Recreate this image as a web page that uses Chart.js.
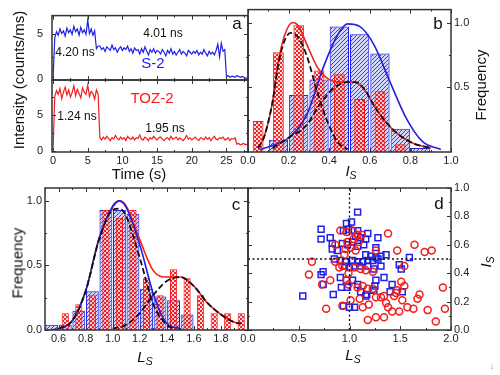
<!DOCTYPE html>
<html>
<head>
<meta charset="utf-8">
<script src="https://cdn.jsdelivr.net/npm/chart.js@4.4.1/dist/chart.umd.min.js"></script>
<style>
body { margin: 0; background: #fff; }
#fig { position: relative; width: 500px; height: 375px; overflow: hidden; font-family: "Liberation Sans", Arial, sans-serif; }
#fig canvas { position: absolute; left: 0; top: 0; }
.t { position: absolute; transform: translate(-50%, -50%); white-space: nowrap; color: #111; line-height: 1; }
.r { transform: translate(-50%, -50%) rotate(-90deg); }
sub { font-size: 70%; vertical-align: -0.25em; font-style: italic; }
</style>
</head>
<body>
<div id="fig">
  <canvas id="a1" width="500" height="375"></canvas>
  <canvas id="a2" width="500" height="375"></canvas>
  <canvas id="b" width="500" height="375"></canvas>
  <canvas id="c" width="500" height="375"></canvas>
  <canvas id="d" width="500" height="375"></canvas>

  <div class="t" style="left:237px;top:23px;font-size:17px">a</div>
  <div class="t" style="left:438px;top:23px;font-size:17px">b</div>
  <div class="t" style="left:236px;top:204px;font-size:17px">c</div>
  <div class="t" style="left:439px;top:203px;font-size:17px">d</div>

  <div class="t" style="left:75px;top:52px;font-size:12px">4.20 ns</div>
  <div class="t" style="left:163px;top:33px;font-size:12px">4.01 ns</div>
  <div class="t" style="left:153px;top:62px;font-size:15px;color:#1a1aff">S-2</div>
  <div class="t" style="left:152px;top:97px;font-size:15px;color:#ff1a1a">TOZ-2</div>
  <div class="t" style="left:77px;top:116px;font-size:12px">1.24 ns</div>
  <div class="t" style="left:165px;top:128px;font-size:12px">1.95 ns</div>

  <div class="t r" style="left:18px;top:80px;font-size:15px">Intensity (counts/ms)</div>
  <div class="t" style="left:139px;top:173px;font-size:15px">Time (s)</div>
  <div class="t r" style="left:480px;top:85px;font-size:15px">Frequency</div>
  <div class="t" style="left:351px;top:172px;font-size:15px"><i>I</i><sub>S</sub></div>
  <div class="t r" style="left:17px;top:263px;font-size:15px">Frequency</div>
  <div class="t" style="left:145px;top:358px;font-size:15px"><i>L</i><sub>S</sub></div>
  <div class="t" style="left:353px;top:356px;font-size:15px"><i>L</i><sub>S</sub></div>
  <div class="t r" style="left:487px;top:262px;font-size:15px"><i>I</i><sub>S</sub></div>
  <div class="t" style="left:492px;top:366px;font-size:9px;color:#999">&#8595;</div>
</div>

<script>
// ---- panel a: intensity traces, 0.25 s bins
const aStep = 0.25;
const s2Intensity = [0,
  4.6,5.3,4.9,5.6,5.1,5.4,4.8,5.7,5.2,5.5,5.0,5.9,5.3,5.6,4.9,5.8,5.2,5.5,5.0,6.6,5.1,5.6,4.9,5.4,
  3.4,3.7,3.7,3.3,3.5,3.1,3.6,3.4,3.2,3.8,3.3,3.5,3.0,3.4,3.6,3.2,3.5,
  3.3,3.7,3.1,3.4,2.9,3.5,3.2,3.3,2.8,3.4,3.0,3.6,3.1,2.7,3.3,3.0,3.4,2.9,3.2,3.1,
  2.8,3.3,3.0,2.6,3.2,2.9,3.4,2.8,3.1,2.7,3.0,3.3,2.8,3.1,2.9,2.6,3.2,3.0,2.8,3.1,
  2.9,3.2,2.7,3.0,2.8,3.3,2.9,2.6,3.1,2.8,3.0,2.7,3.2,3.9,2.5,4.0,3.1,3.3,
  0.3,0.4,0.2,0.3,0.3,0.2,0.4,0.3,0.2,0.3,0.2,0.1,0.1];
const toz2Intensity = [0,
  7.6,8.4,7.9,8.7,7.3,8.2,8.9,7.8,8.5,7.5,8.1,9.1,7.7,8.6,8.0,7.4,8.8,8.2,7.9,9.2,7.6,8.3,8.0,7.2,8.5,7.9,
  1.8,1.5,1.9,1.6,2.0,1.7,1.4,1.8,1.6,2.1,1.7,1.5,1.9,1.6,1.8,1.4,2.0,1.7,1.6,1.9,
  1.5,1.8,1.7,2.2,1.6,1.5,1.9,1.7,1.4,1.8,1.6,2.0,1.7,1.5,1.8,1.9,1.6,1.4,1.7,1.8,
  1.5,2.0,1.6,1.7,1.9,1.5,1.8,1.6,1.4,1.7,2.1,1.6,1.8,1.5,1.7,1.9,1.6,1.4,1.8,1.7,
  1.5,1.9,1.6,1.8,1.4,1.7,2.0,1.6,1.5,1.8,1.7,1.9,1.5,1.6,1.8,1.4,1.7,1.6,1.8,
  0.9,1.0,0.8,0.9,1.0,0.8,0.9];
const aTimeTicks = [0, 5, 10, 15, 20, 25];
const aIntTicks = [0, 5];

// ---- panel b: I_S histograms + fits
const bRedBins = [0.05,0.15,0.25,0.35,0.45,0.55,0.65,0.75];
const bRedFreq = [0.24,0.77,0.98,0.63,0.60,0.41,0.47,0.06];
const bBlueBins = [0.15,0.25,0.35,0.45,0.55,0.65,0.75,0.85];
const bBlueFreq = [0.095,0.44,0.56,0.97,0.91,0.76,0.18,0.03];
const bRedFitX = [0.05,0.08,0.12,0.15,0.18,0.22,0.25,0.29,0.34,0.39,0.45,0.52,0.57,0.62,0.67,0.73,0.81,0.90];
const bRedFit  = [0.03,0.12,0.38,0.70,0.90,1.00,0.97,0.83,0.66,0.57,0.54,0.54,0.49,0.36,0.25,0.15,0.07,0.03];
const bBlueFitX = [0.06,0.12,0.20,0.29,0.37,0.44,0.49,0.55,0.62,0.70,0.78,0.86,0.95];
const bBlueFit  = [0.02,0.05,0.11,0.29,0.65,0.90,0.99,0.97,0.83,0.54,0.26,0.08,0.02];
const bPeak1X = [0.05,0.08,0.12,0.15,0.18,0.21,0.25,0.29,0.34,0.39,0.44,0.49];
const bPeak1  = [0.03,0.12,0.38,0.68,0.86,0.92,0.88,0.74,0.47,0.24,0.08,0.02];
const bPeak2X = [0.12,0.20,0.29,0.35,0.42,0.49,0.53,0.58,0.62,0.67,0.73,0.81,0.90];
const bPeak2  = [0.03,0.11,0.21,0.36,0.49,0.54,0.54,0.47,0.36,0.25,0.15,0.07,0.03];
const bXTicks = [0, 0.2, 0.4, 0.6, 0.8, 1.0];
const bYTicks = [0.5, 1.0];

// ---- panel c: L_S histograms + fits
const cRedBins = [0.65,0.75,0.85,0.95,1.05,1.15,1.25,1.35,1.45,1.55,1.65,1.75,1.85,1.95];
const cRedFreq = [0.13,0.20,0.27,0.93,0.87,0.93,0.40,0.27,0.47,0.40,0.27,0.13,0.13,0.13];
const cBlueBins = [0.55,0.65,0.75,0.85,0.95,1.05,1.15,1.25,1.35,1.45,1.55];
const cBlueFreq = [0.04,0.04,0.15,0.30,0.93,0.93,0.90,0.32,0.26,0.23,0.12];
const cRedFitX = [0.55,0.60,0.70,0.80,0.90,1.00,1.05,1.10,1.20,1.30,1.40,1.50,1.60,1.70,1.80,1.90,1.95];
const cRedFit  = [0.00,0.01,0.07,0.30,0.71,0.95,1.00,0.96,0.70,0.46,0.41,0.41,0.34,0.21,0.12,0.06,0.05];
const cBlueFitX = [0.55,0.60,0.70,0.80,0.90,1.00,1.05,1.10,1.20,1.30,1.35,1.40,1.50];
const cBlueFit  = [0.00,0.01,0.07,0.30,0.71,0.96,1.00,0.95,0.66,0.28,0.14,0.05,0.01];
const cPeak1X = [0.60,0.70,0.80,0.90,1.00,1.05,1.10,1.20,1.30,1.40,1.45];
const cPeak1  = [0.01,0.07,0.30,0.70,0.93,0.94,0.88,0.56,0.20,0.04,0.01];
const cPeak2X = [1.00,1.10,1.20,1.30,1.40,1.50,1.60,1.70,1.80,1.90,1.95];
const cPeak2  = [0.01,0.04,0.13,0.27,0.38,0.41,0.34,0.21,0.12,0.06,0.05];
const cXTicks = [0.6, 0.8, 1.0, 1.2, 1.4, 1.6, 1.8];
const cYTicks = [0, 0.5, 1.0];

// ---- panel d: scatter L_S vs I_S
const dBlue = [[1.08,0.83],[0.72,0.71],[0.97,0.75],[1.02,0.76],[0.72,0.64],[0.81,0.65],[0.94,0.70],[0.99,0.71],
  [1.03,0.70],[1.08,0.70],[1.18,0.68],[1.06,0.66],[1.11,0.65],[1.16,0.64],[1.28,0.65],[0.93,0.61],[0.98,0.60],
  [1.03,0.62],[1.08,0.59],[1.14,0.60],[1.26,0.58],[0.83,0.61],[0.88,0.56],[0.83,0.57],[1.16,0.53],[1.21,0.52],
  [1.26,0.51],[1.31,0.52],[1.36,0.53],[0.85,0.50],[0.91,0.49],[0.96,0.48],[1.03,0.49],[1.08,0.48],[1.13,0.48],
  [1.18,0.49],[1.23,0.49],[1.28,0.50],[0.95,0.45],[1.00,0.44],[1.05,0.45],[1.10,0.45],[1.18,0.45],[1.24,0.43],
  [1.31,0.45],[1.49,0.46],[1.51,0.43],[1.59,0.51],[0.74,0.41],[0.72,0.39],[0.91,0.37],[0.97,0.35],[1.03,0.35],
  [1.08,0.32],[1.26,0.35],[1.25,0.31],[1.34,0.37],[1.42,0.32],[1.52,0.27],[1.40,0.27],[0.92,0.30],[0.98,0.30],
  [1.11,0.27],[1.17,0.25],[1.24,0.28],[0.74,0.32],[0.84,0.25],[0.54,0.24],[0.94,0.17],[1.00,0.16],[1.05,0.16],[1.16,0.24]];
const dRed = [[0.91,0.70],[0.97,0.69],[1.03,0.70],[1.08,0.67],[1.12,0.67],[1.09,0.62],[1.38,0.68],[0.86,0.60],
  [0.98,0.62],[0.96,0.57],[1.01,0.58],[1.06,0.56],[1.26,0.56],[1.47,0.56],[1.64,0.60],[1.74,0.55],[1.81,0.56],
  [0.63,0.48],[0.86,0.48],[0.90,0.44],[0.93,0.45],[1.05,0.44],[1.11,0.43],[1.16,0.42],[1.23,0.41],[1.54,0.45],
  [0.60,0.39],[0.81,0.35],[0.73,0.32],[0.97,0.35],[0.99,0.32],[1.08,0.30],[1.13,0.31],[1.18,0.29],[1.23,0.29],
  [1.51,0.34],[1.54,0.31],[1.47,0.28],[1.69,0.25],[1.67,0.22],[1.92,0.30],[1.44,0.24],[1.46,0.26],[1.26,0.23],
  [1.31,0.23],[1.34,0.24],[1.01,0.21],[1.10,0.22],[1.52,0.21],[0.77,0.15],[0.93,0.17],[1.13,0.16],[1.19,0.18],
  [1.36,0.19],[1.38,0.16],[1.57,0.16],[1.63,0.15],[1.77,0.14],[1.94,0.15],[1.42,0.13],[1.49,0.13],[1.18,0.07],
  [1.26,0.09],[1.34,0.09],[1.85,0.06],[0.99,0.40],[1.04,0.64],[0.95,0.53]];
const dRefLs = [1.0];
const dRefIs = [0.5];
const dXTicks = [0, 0.5, 1.0, 1.5, 2.0];
const dYTicks = [0, 0.2, 0.4, 0.6, 0.8, 1.0];

const FONT = '"Liberation Sans", Arial, sans-serif';
const RED = '#f21e1e';
const BLUE = '#2020e6';

// fill patterns for the histogram bars
function makePatterns() {
  const probe = document.createElement('canvas').getContext('2d');
  const r = document.createElement('canvas');
  r.width = r.height = 4;
  let g = r.getContext('2d');
  g.fillStyle = 'rgba(242,24,24,0.95)';
  g.fillRect(0, 0, 4, 4);
  g.clearRect(0, 0, 2, 2); g.clearRect(2, 2, 2, 2);
  g.fillStyle = 'rgba(255,190,190,0.55)';
  g.fillRect(0, 0, 2, 2); g.fillRect(2, 2, 2, 2);

  const b = document.createElement('canvas');
  b.width = b.height = 4;
  g = b.getContext('2d');
  g.fillStyle = 'rgba(165,172,245,0.5)';
  g.fillRect(0, 0, 4, 4);
  g.strokeStyle = 'rgba(35,35,230,0.85)';
  g.lineWidth = 1;
  g.beginPath();
  g.moveTo(0, 4); g.lineTo(4, 0);
  g.moveTo(-1, 1); g.lineTo(1, -1);
  g.moveTo(3, 5); g.lineTo(5, 3);
  g.stroke();
  return { red: probe.createPattern(r, 'repeat'), blue: probe.createPattern(b, 'repeat') };
}
const pat = makePatterns();

// frame + inward ticks (major + minor) on all four sides
const frameTicks = {
  id: 'frameTicks',
  afterDatasetsDraw(chart) {
    const { ctx, chartArea: a } = chart;
    ctx.save();
    ctx.strokeStyle = '#333';
    ctx.lineWidth = 1;
    for (const s of Object.values(chart.scales)) {
      const vals = s.ticks.map(t => t.value);
      const marks = vals.map(v => [v, 4]);
      if (vals.length > 1) {
        const st = vals[1] - vals[0];
        for (let v = vals[0] - st / 2; v <= s.max + 1e-9; v += st) {
          if (v >= s.min - 1e-9) marks.push([v, 2]);
        }
      }
      ctx.beginPath();
      for (const [v, len] of marks) {
        const p = Math.round(s.getPixelForValue(v)) + 0.5;
        if (s.isHorizontal()) {
          ctx.moveTo(p, a.bottom); ctx.lineTo(p, a.bottom - len);
          ctx.moveTo(p, a.top); ctx.lineTo(p, a.top + len);
        } else {
          ctx.moveTo(a.left, p); ctx.lineTo(a.left + len, p);
          ctx.moveTo(a.right, p); ctx.lineTo(a.right - len, p);
        }
      }
      ctx.stroke();
    }
    ctx.lineWidth = 1.5;
    ctx.strokeRect(a.left, a.top, a.right - a.left, a.bottom - a.top);
    ctx.restore();
  }
};

function axis(position, min, max, list, size, fmt, pad) {
  return {
    type: 'linear', position, min, max, offset: false,
    grid: { display: false, drawTicks: false },
    border: { display: false },
    afterBuildTicks: s => { s.ticks = list.map(v => ({ value: v })); },
    afterFit: s => { if (s.isHorizontal()) s.height = size; else s.width = size; },
    ticks: {
      display: fmt !== null, callback: fmt || undefined,
      font: { family: FONT, size: 11 }, color: '#222',
      padding: pad === undefined ? 3 : pad, maxRotation: 0, autoSkip: false
    }
  };
}
const f0 = v => String(v);
const f1 = v => v.toFixed(1);

function baseOptions(padding, scales) {
  return {
    responsive: false, animation: false, devicePixelRatio: 1, events: [],
    layout: { padding },
    plugins: { legend: { display: false }, tooltip: { enabled: false } },
    scales
  };
}

const xy = (xs, ys) => xs.map((x, i) => ({ x, y: ys[i] }));
const trace = ys => ys.map((y, i) => ({ x: i * aStep, y }));

function fitLine(xs, ys, color, dashed, order) {
  return {
    type: 'line', data: xy(xs, ys), borderColor: color, borderWidth: dashed ? 1.8 : 1.6,
    borderDash: dashed ? [6, 3] : [], pointRadius: 0, fill: false,
    cubicInterpolationMode: 'monotone', order
  };
}
function bars(bins, freq, fill, color, pct, order) {
  return {
    type: 'bar', data: xy(bins, freq), backgroundColor: fill,
    borderColor: color, borderWidth: 1, grouped: false,
    categoryPercentage: 1, barPercentage: pct, order
  };
}

// panel a, top (S-2)
new Chart(document.getElementById('a1'), {
  type: 'line',
  data: { datasets: [{ data: trace(s2Intensity), borderColor: BLUE, borderWidth: 1.2, pointRadius: 0 }] },
  options: baseOptions({ left: 0, top: 8, right: 252, bottom: 295 }, {
    x: axis('bottom', -0.15, 28.1, aTimeTicks, 0, null),
    y: axis('left', -0.1, 7.1, aIntTicks, 52, f0, 9)
  }),
  plugins: [frameTicks]
});

// panel a, bottom (TOZ-2)
new Chart(document.getElementById('a2'), {
  type: 'line',
  data: { datasets: [{ data: trace(toz2Intensity), borderColor: RED, borderWidth: 1.2, pointRadius: 0 }] },
  options: baseOptions({ left: 0, top: 80, right: 252, bottom: 193 }, {
    x: axis('bottom', -0.15, 28.1, aTimeTicks, 30, f0, 2),
    y: axis('left', -0.2, 9.9, aIntTicks, 52, f0, 9)
  }),
  plugins: [frameTicks]
});

// panel b
new Chart(document.getElementById('b'), {
  type: 'bar',
  data: { datasets: [
    bars(bBlueBins, bBlueFreq, pat.blue, BLUE, 0.95, 5),
    bars(bRedBins, bRedFreq, pat.red, RED, 0.53, 4),
    fitLine(bRedFitX, bRedFit, RED, false, 3),
    fitLine(bBlueFitX, bBlueFit, BLUE, false, 2),
    fitLine(bPeak1X, bPeak1, '#111', true, 1),
    fitLine(bPeak2X, bPeak2, '#111', true, 1)
  ] },
  options: baseOptions({ left: 248, top: 8, right: 9, bottom: 193 }, {
    x: axis('bottom', 0, 1.0, bXTicks, 30, f1, 2),
    y: axis('right', 0, 1.1, bYTicks, 40, f1, 3)
  }),
  plugins: [frameTicks]
});

// panel c
new Chart(document.getElementById('c'), {
  type: 'bar',
  data: { datasets: [
    bars(cBlueBins, cBlueFreq, pat.blue, BLUE, 0.95, 5),
    bars(cRedBins, cRedFreq, pat.red, RED, 0.53, 4),
    fitLine(cRedFitX, cRedFit, RED, false, 3),
    fitLine(cBlueFitX, cBlueFit, BLUE, false, 2),
    fitLine(cPeak1X, cPeak1, '#111', true, 1),
    fitLine(cPeak2X, cPeak2, '#111', true, 1)
  ] },
  options: baseOptions({ left: 0, top: 188, right: 252, bottom: 15 }, {
    x: axis('bottom', 0.5, 2.0, cXTicks, 30, f1, 2),
    y: axis('left', 0, 1.1, cYTicks, 45, f1, 3)
  }),
  plugins: [frameTicks]
});

// panel d
const dMin = 0, dMax = 1.0, dLsMin = 0, dLsMax = 2.0;
const refSets = [
  ...dRefLs.map(v => ({ data: [{ x: v, y: dMin }, { x: v, y: dMax }] })),
  ...dRefIs.map(v => ({ data: [{ x: dLsMin, y: v }, { x: dLsMax, y: v }] }))
].map(s => Object.assign(s, {
  type: 'line', borderColor: '#111', borderWidth: 1.3, borderDash: [2, 2.5], pointRadius: 0, order: 0
}));
new Chart(document.getElementById('d'), {
  type: 'scatter',
  data: { datasets: [
    { data: dBlue.map(p => ({ x: p[0], y: p[1] })), pointStyle: 'rect', radius: 4.2,
      borderColor: BLUE, borderWidth: 1.5, backgroundColor: 'rgba(0,0,0,0)', order: 2 },
    { data: dRed.map(p => ({ x: p[0], y: p[1] })), pointStyle: 'circle', radius: 3.5,
      borderColor: RED, borderWidth: 1.5, backgroundColor: 'rgba(0,0,0,0)', order: 1 },
    ...refSets
  ] },
  options: baseOptions({ left: 248, top: 188, right: 9, bottom: 15 }, {
    x: axis('bottom', dLsMin, dLsMax, dXTicks, 30, f1, 2),
    y: axis('right', dMin, dMax, dYTicks, 40, f1, 3)
  }),
  plugins: [frameTicks]
});
</script>
</body>
</html>
